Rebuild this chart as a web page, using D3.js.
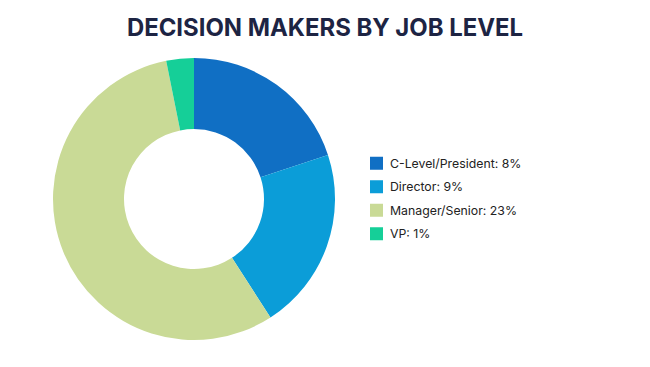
<!DOCTYPE html>
<html><head><meta charset="utf-8">
<script src="https://cdn.jsdelivr.net/npm/d3@7/dist/d3.min.js"></script>
<style>html,body{margin:0;padding:0;background:#fff;}svg{display:block;}</style>
</head><body>
<svg id="chart" width="650" height="367"></svg>
<script>
const title = "DECISION MAKERS BY JOB LEVEL";
const categories = ["C-Level/President", "Director", "Manager/Senior", "VP"];
const values = [8.2, 8.6, 23.0, 1.3];
const colors = ["#106fc4", "#0b9dd8", "#c9da96", "#15cf98"];

const svg = d3.select("#chart");
svg.append("text")
  .attr("x", 325).attr("y", 36)
  .attr("text-anchor", "middle")
  .attr("font-family", "Inter, 'Open Sans', sans-serif")
  .attr("font-weight", 700)
  .attr("font-size", 23.9)
  .attr("fill", "#1d2443")
  .text(title);

const cx = 194, cy = 199, rOuter = 141, rInner = 70;
const pie = d3.pie().sort(null).value(d => d)(values);
const arc = d3.arc().innerRadius(rInner).outerRadius(rOuter);
const g = svg.append("g").attr("transform", `translate(${cx},${cy})`);
g.selectAll("path").data(pie).join("path")
  .attr("d", arc)
  .attr("fill", (d, i) => colors[i]);

const fmt = d3.format(".0f");
const legendY = d3.scaleBand().domain(categories).range([151.5, 245.5]);
const lg = svg.append("g");
const items = lg.selectAll("g").data(categories).join("g")
  .attr("transform", d => `translate(370,${legendY(d) + legendY.bandwidth()/2})`);
items.append("rect").attr("x", 0).attr("y", -6.5).attr("width", 13).attr("height", 13)
  .attr("fill", (d, i) => colors[i]);
items.append("text").attr("x", 20).attr("y", 0).attr("dy", "0.35em")
  .attr("font-family", "Inter, 'Open Sans', sans-serif")
  .attr("font-size", 12.3)
  .attr("fill", "#222")
  .text((d, i) => `${d}: ${fmt(values[i])}%`);
</script>
</body></html>
